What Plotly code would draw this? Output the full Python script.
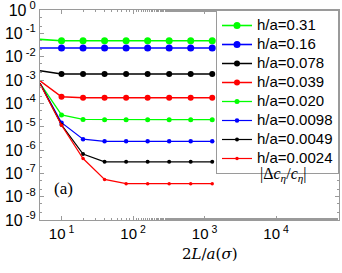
import plotly.graph_objects as go

x_vals = [5, 10, 20, 40, 80, 160, 320, 640, 1280]

labels = ["h/a=0.31", "h/a=0.16", "h/a=0.078", "h/a=0.039",
          "h/a=0.020", "h/a=0.0098", "h/a=0.0049", "h/a=0.0024"]

s_031 = [0.055, 0.048, 0.048, 0.048, 0.048, 0.048, 0.048, 0.048, 0.048]
s_016 = [0.0235, 0.0235, 0.0235, 0.0235, 0.0235, 0.0235, 0.0235, 0.0235, 0.0235]
s_078 = [0.0025, 0.0018, 0.0018, 0.0018, 0.0018, 0.0018, 0.0018, 0.0018, 0.0018]
s_039 = [9.3e-4, 1.9e-4, 1.75e-4, 1.75e-4, 1.75e-4, 1.75e-4, 1.75e-4, 1.75e-4, 1.75e-4]
s_020 = [7.2e-4, 3.2e-5, 2.05e-5, 2.0e-5, 2.0e-5, 2.0e-5, 2.0e-5, 2.0e-5, 2.0e-5]
s_0098 = [7.2e-4, 1.48e-5, 2.9e-6, 2.35e-6, 2.35e-6, 2.35e-6, 2.35e-6, 2.35e-6, 2.35e-6]
s_0049 = [7.2e-4, 1.2e-5, 6.7e-7, 3.1e-7, 3.1e-7, 3.1e-7, 3.1e-7, 3.1e-7, 3.1e-7]
s_0024 = [6.9e-4, 1.15e-5, 4.3e-7, 5.5e-8, 3.6e-8, 3.6e-8, 3.6e-8, 3.6e-8, 3.6e-8]

series = [s_031, s_016, s_078, s_039, s_020, s_0098, s_0049, s_0024]
colors = ["#00ff00", "#0000ff", "#000000", "#ff0000",
          "#00ff00", "#0000ff", "#000000", "#ff0000"]
msizes = [7, 7, 6, 6, 5, 4.5, 4, 3.5]
lwidths = [1.6, 1.6, 1.5, 1.5, 1.3, 1.2, 1.2, 1.2]

y_tickvals = [1, 1e-1, 1e-2, 1e-3, 1e-4, 1e-5, 1e-6, 1e-7, 1e-8, 1e-9]
y_ticktext = ["10<sup> 0</sup>", "10<sup> -1</sup>", "10<sup> -2</sup>", "10<sup> -3</sup>",
              "10<sup> -4</sup>", "10<sup> -5</sup>", "10<sup> -6</sup>", "10<sup> -7</sup>",
              "10<sup> -8</sup>", "10<sup> -9</sup>"]
x_tickvals = [10, 100, 1000, 10000]
x_ticktext = ["10<sup> 1</sup>", "10<sup> 2</sup>", "10<sup> 3</sup>", "10<sup> 4</sup>"]

fig = go.Figure()
for lab, ys, c, ms, lw in zip(labels, series, colors, msizes, lwidths):
    fig.add_trace(go.Scatter(
        x=x_vals, y=ys, mode="lines+markers",
        name="<span style='font-size:15px'>" + lab + "</span>",
        line=dict(color=c, width=lw),
        marker=dict(color=c, size=ms, symbol="circle"),
        cliponaxis=False,
    ))

axis_color = "#9a9a9a"
font_family = "Liberation Sans, Arial, sans-serif"

fig.update_layout(
    template="none",
    width=342, height=273,
    margin=dict(l=40, r=3, t=10, b=53, autoexpand=False),
    paper_bgcolor="white", plot_bgcolor="white",
    font=dict(family=font_family, size=15, color="black"),
    showlegend=True,
    legend=dict(
        x=1, xanchor="right", y=1, yanchor="top",
        bgcolor="white", bordercolor=axis_color, borderwidth=1,
        font=dict(family=font_family, size=11, color="black"),
        tracegroupgap=0, itemwidth=30,
    ),
    xaxis=dict(
        type="log", range=[0.699, 4.88], automargin=False,
        tickvals=x_tickvals, ticktext=x_ticktext,
        ticks="inside", ticklen=4, tickcolor=axis_color,
        showline=True, linecolor=axis_color, linewidth=1, mirror="ticks",
        showgrid=False, zeroline=False,
        tickfont=dict(family=font_family, size=15, color="black"),
        minor=dict(ticks="inside", ticklen=2, tickcolor=axis_color, showgrid=False),
    ),
    yaxis=dict(
        type="log", range=[-9, 0], automargin=False,
        tickvals=y_tickvals, ticktext=y_ticktext,
        ticks="inside", ticklen=4, tickcolor=axis_color,
        showline=True, linecolor=axis_color, linewidth=1, mirror="ticks",
        showgrid=False, zeroline=False, ticklabeloverflow="allow",
        tickfont=dict(family=font_family, size=16, color="black"),
        minor=dict(ticks="inside", ticklen=2, tickcolor=axis_color, showgrid=False),
    ),
)

fig.add_annotation(
    text="2<i>L</i>/<i>a</i>(<i>σ</i>)", xref="paper", yref="paper",
    x=0.57, y=-0.162, xanchor="center", yanchor="middle", showarrow=False,
    font=dict(family="DejaVu Serif, Liberation Serif, serif", size=15, color="black"),
)
fig.add_annotation(
    text="(a)", xref="paper", yref="paper",
    x=0.077, y=0.152, xanchor="center", yanchor="middle", showarrow=False,
    font=dict(family="Liberation Serif, serif", size=17, color="black"),
)
fig.add_annotation(
    text="|Δ<i>c</i><sub><i>η</i></sub>/<i>c</i><sub><i>η</i></sub>|", xref="paper", yref="paper",
    x=0.813, y=0.215, xanchor="center", yanchor="middle", showarrow=False,
    font=dict(family="Liberation Serif, serif", size=16, color="black"),
)

fig.write_html(
    "out.html",
    config={"displayModeBar": False},
    post_script="document.body.style.margin='0';document.body.style.overflow='hidden';",
)
